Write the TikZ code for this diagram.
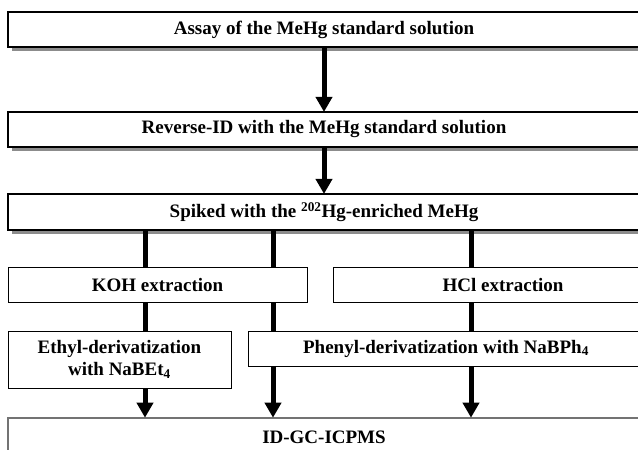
\documentclass[tikz,border=0pt]{standalone}
\usepackage{fontspec}
\setmainfont{Liberation Serif}
\usepackage{tikz}
\usetikzlibrary{positioning}
\usetikzlibrary{arrows.meta}
\usetikzlibrary{shadows}
\definecolor{shadowColor}{rgb}{0.55,0.55,0.55}

\begin{document}
\begin{tikzpicture}[x=1pt,y=-1pt]

          \tikzstyle{wideBox} = [draw, line width=1.1pt, fill=white, minimum width=632pt, minimum height=35pt, inner sep=0pt,
                                 drop shadow={shadow xshift=3.5pt, shadow yshift=-3.5pt, fill=shadowColor, opacity=1}];
          \tikzstyle{smallBox} = [draw, line width=0.9pt, fill=white, minimum height=35pt, inner sep=0pt, align=center];
          \tikzstyle{lastBox} = [draw=black!55, line width=1.6pt, fill=white, minimum width=632pt, minimum height=38pt, inner sep=0pt];

          \tikzstyle{flowLine} = [line width=5pt];
          \tikzstyle{flowArrow} = [line width=5pt, -{Triangle[width=16pt,length=15pt]}, shorten >=-0.5pt];

          \useasboundingbox (0,0) rectangle (638,450);
          \clip (0,0) rectangle (638,450);

          \begin{scope}[font=\fontsize{19}{22}\selectfont\bfseries]
          \node[wideBox] (assay) at (324,29.5) {Assay of the MeHg standard solution};
          \node[wideBox] (reverse) at (324,129.5) {Reverse-ID with the MeHg standard solution};
          \node[wideBox, minimum height=36pt] (spiked) at (324,212) {Spiked with the \textsuperscript{202}Hg-enriched MeHg};
          \node[smallBox, minimum width=299pt] (koh) at (157.5,284.5) {KOH extraction};
          \node[smallBox, minimum width=340pt] (hcl) at (503,284.5) {HCl extraction};
          \node[smallBox, minimum width=223pt, minimum height=57pt] (ethyl) at (119.5,359.5) {Ethyl-derivatization\\with NaBEt\textsubscript{4}};
          \node[smallBox, minimum width=396pt] (phenyl) at (446,348.5) {Phenyl-derivatization with NaBPh\textsubscript{4}};
          \node[lastBox] (icpms) at (324,437) {ID-GC-ICPMS};
          \end{scope}

          \coordinate (laneA) at (145,0);
          \coordinate (laneB) at (273,0);
          \coordinate (laneC) at (471,0);

          \draw[flowArrow] (assay.south) -- (reverse.north);
          \draw[flowArrow] (reverse.south) -- (spiked.north);
          \draw[flowLine] (spiked.south -| laneA) -- (koh.north -| laneA);
          \draw[flowLine] (spiked.south -| laneB) -- (koh.north -| laneB);
          \draw[flowLine] (spiked.south -| laneC) -- (hcl.north -| laneC);
          \draw[flowLine] (koh.south -| laneA) -- (ethyl.north -| laneA);
          \draw[flowLine] (koh.south -| laneB) -- (phenyl.north -| laneB);
          \draw[flowLine] (hcl.south -| laneC) -- (phenyl.north -| laneC);
          \draw[flowArrow] (ethyl.south -| laneA) -- (icpms.north -| laneA);
          \draw[flowArrow] (phenyl.south -| laneB) -- (icpms.north -| laneB);
          \draw[flowArrow] (phenyl.south -| laneC) -- (icpms.north -| laneC);
        \end{tikzpicture}
\end{document}
